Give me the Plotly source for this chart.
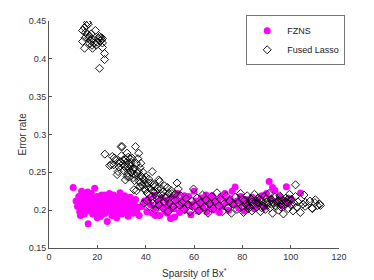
import plotly.graph_objects as go

# ---- data ----
fzns_x = [10.0, 11.2, 11.8, 12.3, 12.7, 13.1, 13.5, 13.9, 14.2, 14.6, 15.0, 15.3, 15.7, 16.0, 16.2, 16.5, 16.9, 17.2, 17.5, 17.8,
          18.1, 18.5, 18.9, 19.2, 19.5, 19.9, 20.2, 20.6, 21.0, 21.3, 21.7, 22.0, 22.4, 22.8, 23.2, 23.5, 23.9, 24.1, 24.4, 24.8,
          25.2, 25.6, 26.0, 26.3, 26.7, 27.1, 27.5, 27.9, 28.3, 28.6, 29.0, 29.4, 29.8, 30.1, 30.5, 30.9, 31.3, 31.6, 32.0, 32.4,
          32.8, 33.2, 33.6, 34.0, 34.4, 34.8, 35.3, 35.8, 36.3, 36.8, 37.3,
          12.0, 14.0, 15.0, 17.0, 18.0, 19.0, 20.0, 21.0, 22.0, 23.0, 24.0, 25.0, 26.0, 27.0, 28.0, 13.0, 16.0, 20.0, 25.0, 30.0,
          38.5, 39.5, 40.5, 41.2, 42.0, 42.8, 43.5, 44.2, 45.0, 45.8, 46.5, 47.3, 48.0, 48.8, 49.5, 50.3, 51.0, 51.8, 52.5, 53.3,
          54.0, 54.8, 55.5, 56.3, 57.0, 57.8, 58.7, 59.3, 60.0, 60.8, 61.5, 62.3, 63.0, 63.8, 64.5, 65.3, 66.0, 66.8, 67.5, 68.3,
          69.0, 69.8, 70.5, 71.3, 72.0, 72.8, 73.5, 74.3, 75.0, 75.8, 76.5, 77.0, 77.8, 78.5, 79.3, 80.0, 80.8, 81.5, 82.3, 83.0,
          84.0, 85.0, 86.0, 87.0, 88.0, 89.0, 90.0, 91.1, 91.8, 92.5, 93.5, 94.5, 95.5, 96.5, 97.5, 98.2, 99.0, 100.0, 104.1,
          46.0, 50.0, 53.0, 56.0, 59.0, 62.0, 65.0, 68.0, 71.0, 74.0, 44.0, 49.0, 52.0]
fzns_y = [0.230, 0.212, 0.205, 0.218, 0.198, 0.209, 0.225, 0.214, 0.201, 0.195, 0.221, 0.208, 0.213, 0.203, 0.182, 0.217, 0.199, 0.210, 0.222, 0.206,
          0.195, 0.214, 0.229, 0.202, 0.209, 0.218, 0.198, 0.205, 0.212, 0.192, 0.220, 0.207, 0.200, 0.215, 0.196, 0.210, 0.204, 0.185, 0.218, 0.199,
          0.209, 0.213, 0.193, 0.204, 0.220, 0.200, 0.211, 0.196, 0.216, 0.206, 0.201, 0.223, 0.209, 0.195, 0.214, 0.203, 0.219, 0.198, 0.208, 0.212,
          0.192, 0.205, 0.217, 0.200, 0.210, 0.196, 0.207, 0.214, 0.199, 0.204, 0.193,
          0.210, 0.208, 0.200, 0.215, 0.203, 0.196, 0.213, 0.204, 0.195, 0.220, 0.211, 0.201, 0.215, 0.207, 0.190, 0.193, 0.224, 0.190, 0.222, 0.206,
          0.205, 0.212, 0.198, 0.215, 0.207, 0.196, 0.220, 0.203, 0.211, 0.193, 0.216, 0.204, 0.199, 0.213, 0.208, 0.189, 0.217, 0.202, 0.210, 0.222,
          0.197, 0.206, 0.214, 0.200, 0.209, 0.218, 0.194, 0.205, 0.225, 0.212, 0.199, 0.208, 0.216, 0.203, 0.211, 0.198, 0.214, 0.206, 0.219, 0.201,
          0.209, 0.213, 0.197, 0.218, 0.205, 0.222, 0.210, 0.200, 0.215, 0.225, 0.207, 0.2305, 0.212, 0.203, 0.218, 0.209, 0.199, 0.214, 0.205, 0.211,
          0.217, 0.202, 0.213, 0.208, 0.219, 0.204, 0.222, 0.238, 0.215, 0.230, 0.226, 0.210, 0.218, 0.206, 0.213, 0.231, 0.209, 0.215, 0.2226,
          0.208, 0.201, 0.213, 0.219, 0.207, 0.201, 0.220, 0.211, 0.206, 0.213, 0.193, 0.196, 0.191]

lasso_x = [15.9, 15.5, 16.3, 14.7, 13.9, 15.2, 16.0, 16.8, 13.9, 14.7, 16.5, 17.2, 18.0, 18.0, 19.2, 18.5, 19.5, 20.4, 20.9, 21.2,
           21.5, 22.1, 22.1, 22.1, 23.0, 23.0, 20.9, 17.5, 16.9, 19.9, 21.8, 15.0, 17.8,
           23.1, 25.1, 25.8, 26.8, 27.5, 28.2, 28.6, 29.6, 29.8, 30.3, 30.0, 30.8, 31.2, 31.6, 32.0, 32.3, 32.3, 32.8, 33.0, 33.3,
           33.6, 33.9, 34.1, 34.4, 34.8, 35.1, 35.5, 35.8, 36.1, 36.2, 36.5, 37.1, 37.3, 37.7, 38.1, 38.5, 38.9, 39.2, 39.2, 39.6,
           40.0, 40.6, 41.0, 41.5, 42.0, 42.7, 42.7, 43.1, 43.6, 44.0, 44.5, 45.4, 45.8, 46.5, 47.2, 48.0, 49.0, 50.5, 51.4, 52.0,
           34.0, 33.0, 31.0, 29.0, 36.8, 37.5, 35.0, 38.0, 40.5, 27.0,
           30.5, 31.8, 32.6, 33.4, 34.6, 35.4, 36.0, 36.9, 37.9, 38.7, 39.9, 41.3, 43.4, 44.8, 47.8, 49.6, 53.5, 31.4, 28.9, 26.2,
           40.5, 41.5, 42.3, 43.0, 44.0, 44.8, 45.5, 46.3, 47.0, 47.8, 48.5, 49.3, 50.0, 50.8, 51.4, 52.2, 53.0, 53.8, 54.5, 55.1,
           56.0, 56.8, 57.5, 58.3, 59.0, 59.8, 60.5, 61.3, 62.0, 62.8, 63.5, 64.3, 65.0, 65.8, 66.5, 67.3, 68.0, 68.8, 69.5, 70.3,
           71.0, 71.8, 72.5, 73.3, 74.0, 74.8, 75.5, 76.3, 77.0, 77.8, 78.5, 79.3, 80.0, 80.5, 81.0, 81.5, 82.0, 82.5, 83.0, 83.5,
           84.0, 84.5, 85.0, 85.5, 86.0, 86.5, 87.0, 87.5, 88.0, 88.5, 89.0, 89.5, 90.0, 90.5, 91.0, 91.5, 92.0, 92.5, 93.0, 93.5,
           94.0, 94.5, 95.0, 95.5, 96.0, 96.5, 97.0, 97.5, 98.0, 98.5, 99.0, 99.5, 100.0, 100.5, 101.0, 101.5, 102.0, 102.5, 103.0, 104.0,
           105.0, 105.5, 106.0, 108.0, 109.0, 110.0, 111.0, 112.0, 102.0, 106.1, 108.9, 110.2, 112.3,
           80.0, 82.0, 84.0, 86.0, 88.0, 90.0, 92.0, 94.0, 96.0, 98.0, 83.0, 87.0, 91.0, 95.0, 99.0]
lasso_y = [0.448, 0.444, 0.446, 0.441, 0.4375, 0.435, 0.432, 0.430, 0.423, 0.414, 0.428, 0.424, 0.426, 0.414, 0.4375, 0.421, 0.418, 0.427, 0.4296, 0.424,
           0.428, 0.427, 0.421, 0.415, 0.407, 0.399, 0.3875, 0.433, 0.420, 0.422, 0.425, 0.428, 0.418,
           0.274, 0.259, 0.260, 0.260, 0.2665, 0.247, 0.251, 0.264, 0.284, 0.284, 0.272, 0.266, 0.258, 0.240, 0.263, 0.2753, 0.2445, 0.270, 0.255, 0.262,
           0.268, 0.258, 0.250, 0.2687, 0.243, 0.227, 0.255, 0.284, 0.262, 0.2257, 0.249, 0.2753, 0.238, 0.256, 0.245, 0.233, 0.250, 0.240, 0.2095, 0.228,
           0.244, 0.2226, 0.236, 0.229, 0.236, 0.251, 0.2138, 0.225, 0.231, 0.2247, 0.219, 0.240, 0.238, 0.228, 0.224, 0.218, 0.230, 0.226, 0.205, 0.221,
           0.263, 0.244, 0.252, 0.257, 0.268, 0.231, 0.248, 0.262, 0.232, 0.269,
           0.261, 0.256, 0.249, 0.259, 0.254, 0.239, 0.246, 0.251, 0.237, 0.243, 0.226, 0.241, 0.234, 0.229, 0.232, 0.222, 0.228, 0.268, 0.262, 0.271,
           0.212, 0.205, 0.218, 0.209, 0.200, 0.214, 0.207, 0.221, 0.203, 0.211, 0.216, 0.198, 0.209, 0.222, 0.205, 0.213, 0.236, 0.207, 0.219, 0.2095,
           0.201, 0.215, 0.208, 0.198, 0.212, 0.228, 0.205, 0.216, 0.199, 0.210, 0.220, 0.204, 0.213, 0.196, 0.209, 0.218, 0.202, 0.211, 0.223, 0.206,
           0.214, 0.198, 0.209, 0.219, 0.203, 0.212, 0.196, 0.208, 0.217, 0.201, 0.210, 0.222, 0.205, 0.197, 0.213, 0.208, 0.219, 0.202, 0.210, 0.215,
           0.199, 0.207, 0.221, 0.212, 0.204, 0.216, 0.209, 0.198, 0.213, 0.206, 0.218, 0.201, 0.211, 0.207, 0.222, 0.203, 0.214, 0.196, 0.209, 0.217,
           0.205, 0.212, 0.200, 0.219, 0.208, 0.213, 0.195, 0.206, 0.216, 0.210, 0.202, 0.221, 0.207, 0.214, 0.199, 0.209, 0.218, 0.204, 0.211, 0.197,
           0.208, 0.220, 0.205, 0.212, 0.202, 0.210, 0.206, 0.208, 0.2335, 0.210, 0.2028, 0.2138, 0.2063,
           0.214, 0.206, 0.211, 0.209, 0.203, 0.215, 0.208, 0.210, 0.204, 0.211, 0.204, 0.214, 0.210, 0.213, 0.215]

x_ticks = [0, 20, 40, 60, 80, 100, 120]
y_ticks = [0.15, 0.2, 0.25, 0.3, 0.35, 0.4, 0.45]
y_tick_labels = ["0.15", "0.2", "0.25", "0.3", "0.35", "0.4", "0.45"]

FONT = "Liberation Sans, Arial, sans-serif"

fig = go.Figure()
fig.add_trace(go.Scatter(
    x=fzns_x, y=fzns_y, mode="markers", name="FZNS",
    marker=dict(symbol="circle", size=7, color="#ff00ff", line=dict(width=0)),
))
fig.add_trace(go.Scatter(
    x=lasso_x, y=lasso_y, mode="markers", name="Fused Lasso",
    marker=dict(symbol="diamond-open", size=6.2, color="#000000", line=dict(width=0.9, color="#000000")),
))

axis_common = dict(
    showgrid=False, zeroline=False, showline=True, linecolor="#555555", linewidth=1,
    ticks="inside", ticklen=3, tickcolor="#555555", mirror=False,
    tickfont=dict(family=FONT, size=9, color="#333333"),
)
fig.update_xaxes(range=[0, 120], tickvals=x_ticks, **axis_common)
fig.update_yaxes(range=[0.15, 0.45], tickvals=y_ticks, ticktext=y_tick_labels, **axis_common)

# page body has an 8px margin, so the figure is sized/offset accordingly
fig.update_layout(
    width=366, height=272,
    margin=dict(l=40.5, r=35.3, t=12.5, b=31.7, autoexpand=False),
    paper_bgcolor="white", plot_bgcolor="white",
    showlegend=True,
    legend=dict(
        x=0.68, y=0.915, xanchor="left", yanchor="middle",
        bordercolor="#777777", borderwidth=1, bgcolor="white",
        font=dict(family=FONT, size=9, color="#222222"),
        itemwidth=30, tracegroupgap=0,
    ),
    annotations=[
        dict(text="Sparsity of Bx<sup>*</sup>", xref="paper", yref="paper", x=0.5, y=-0.108,
             xanchor="center", yanchor="middle", showarrow=False,
             font=dict(family=FONT, size=10, color="#333333")),
        dict(text="Error rate", xref="paper", yref="paper", x=-0.093, y=0.5,
             xanchor="center", yanchor="middle", textangle=-90, showarrow=False,
             font=dict(family=FONT, size=10, color="#333333")),
    ],
)

fig.write_html("out.html")
